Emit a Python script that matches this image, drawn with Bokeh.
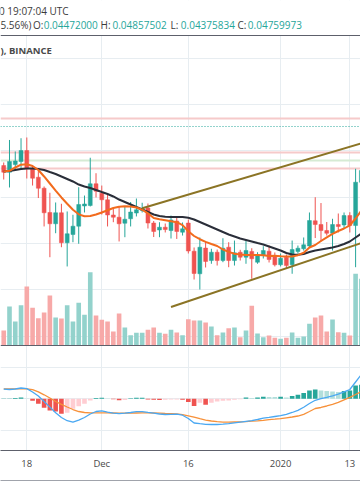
import numpy as np
import pandas as pd
from bokeh.plotting import figure
from bokeh.models import ColumnDataSource, Range1d, LinearAxis, FixedTicker, Grid, Span, BoxAnnotation
from bokeh.core.properties import value
from bokeh.embed import file_html
from bokeh.resources import INLINE

# ---------------- data ----------------
dates = pd.date_range("2019-11-14", "2020-01-15", freq="D")

opens = [0.04842, 0.04770, 0.04853, 0.04886, 0.05004, 0.04807, 0.04716, 0.04597, 0.04335, 0.04213,
         0.04332, 0.04008, 0.04097, 0.04187, 0.04405, 0.04410, 0.04645, 0.04543, 0.04472, 0.04308,
         0.04284, 0.04219, 0.04267, 0.04329, 0.04356, 0.04383, 0.04221, 0.04146, 0.04176, 0.04140,
         0.04243, 0.04122, 0.04221, 0.03917, 0.03673, 0.03951, 0.03816, 0.03906, 0.03816, 0.03960,
         0.03816, 0.03906, 0.03852, 0.03914, 0.03798, 0.03870, 0.03917, 0.03863, 0.03770, 0.03852,
         0.03770, 0.03914, 0.03943, 0.03973, 0.04245, 0.04205, 0.04140, 0.04111, 0.04205, 0.04200,
         0.04302, 0.04194, 0.04662]
highs = [0.04875, 0.05118, 0.04994, 0.05137, 0.05145, 0.04832, 0.04788, 0.04616, 0.04548, 0.04443,
         0.04429, 0.04346, 0.04310, 0.04608, 0.04518, 0.04926, 0.04759, 0.04626, 0.04529, 0.04375,
         0.04400, 0.04405, 0.04448, 0.04486, 0.04440, 0.04432, 0.04243, 0.04230, 0.04216, 0.04302,
         0.04281, 0.04227, 0.04259, 0.03957, 0.04065, 0.04027, 0.03943, 0.03935, 0.04057, 0.04014,
         0.04032, 0.03932, 0.04032, 0.03949, 0.03906, 0.03971, 0.03978, 0.03903, 0.03892, 0.03881,
         0.04032, 0.03978, 0.04065, 0.04335, 0.04500, 0.04437, 0.04232, 0.04267, 0.04324, 0.04335,
         0.04338, 0.04807, 0.04864]
lows = [0.04691, 0.04605, 0.04788, 0.04810, 0.04702, 0.04626, 0.04491, 0.04184, 0.03852, 0.04111,
        0.03960, 0.03752, 0.04014, 0.03997, 0.04335, 0.04400, 0.04497, 0.04313, 0.04184, 0.04230,
        0.04022, 0.04068, 0.04184, 0.04292, 0.04335, 0.04162, 0.04070, 0.04068, 0.04119, 0.04054,
        0.04049, 0.04086, 0.03892, 0.03611, 0.03503, 0.03741, 0.03781, 0.03762, 0.03798, 0.03744,
        0.03762, 0.03816, 0.03781, 0.03619, 0.03781, 0.03838, 0.03795, 0.03752, 0.03752, 0.03727,
        0.03673, 0.03892, 0.03924, 0.03957, 0.04059, 0.04022, 0.04086, 0.03924, 0.04119, 0.04162,
        0.04119, 0.03744, 0.04378]
closes = [0.04770, 0.04886, 0.04891, 0.05004, 0.04813, 0.04705, 0.04597, 0.04332, 0.04213, 0.04332,
          0.04008, 0.04105, 0.04187, 0.04421, 0.04427, 0.04645, 0.04565, 0.04472, 0.04308, 0.04284,
          0.04213, 0.04262, 0.04340, 0.04364, 0.04381, 0.04221, 0.04130, 0.04176, 0.04151, 0.04254,
          0.04130, 0.04159, 0.03919, 0.03676, 0.03960, 0.03806, 0.03906, 0.03816, 0.03949, 0.03816,
          0.03900, 0.03852, 0.03924, 0.03835, 0.03870, 0.03924, 0.03827, 0.03770, 0.03841, 0.03762,
          0.03935, 0.03949, 0.03986, 0.04248, 0.04205, 0.04140, 0.04111, 0.04205, 0.04184, 0.04302,
          0.04194, 0.04662, 0.04788]
volumes = [60, 156, 96, 161, 236, 151, 109, 132, 200, 112, 108, 161, 96, 171, 123, 293, 120, 103, 96, 56,
           128, 72, 41, 51, 51, 63, 72, 51, 47, 63, 52, 41, 105, 100, 100, 92, 76, 41, 52, 69,
           72, 33, 60, 159, 48, 33, 40, 31, 27, 31, 52, 31, 36, 87, 112, 120, 56, 104, 53, 51,
           40, 287, 267]
ema_fast = [0.04778, 0.04785, 0.04821, 0.04851, 0.04856, 0.04837, 0.04794, 0.04724, 0.04648, 0.04572,
            0.04497, 0.04429, 0.04364, 0.04315, 0.04294, 0.04297, 0.04313, 0.04335, 0.04359, 0.04383,
            0.04397, 0.04402, 0.04400, 0.04389, 0.04365, 0.04326, 0.04275, 0.04262, 0.04252, 0.04241,
            0.04230, 0.04198, 0.04132, 0.04081, 0.04046, 0.04018, 0.03995, 0.03973, 0.03935, 0.03910,
            0.03890, 0.03881, 0.03876, 0.03876, 0.03876, 0.03873, 0.03865, 0.03868, 0.03863, 0.03860,
            0.03860, 0.03874, 0.03900, 0.03957, 0.03984, 0.04027, 0.04067, 0.04105, 0.04135, 0.04162,
            0.04197, 0.04270, 0.04356]
ema_slow = [0.04778, 0.04783, 0.04794, 0.04805, 0.04810, 0.04810, 0.04805, 0.04794, 0.04772, 0.04751,
            0.04724, 0.04697, 0.04670, 0.04637, 0.04616, 0.04599, 0.04578, 0.04556, 0.04535, 0.04508,
            0.04475, 0.04448, 0.04421, 0.04394, 0.04367, 0.04340, 0.04313, 0.04297, 0.04288, 0.04286,
            0.04286, 0.04286, 0.04278, 0.04259, 0.04232, 0.04205, 0.04178, 0.04151, 0.04124, 0.04097,
            0.04076, 0.04054, 0.04038, 0.04022, 0.04005, 0.03989, 0.03968, 0.03946, 0.03924, 0.03897,
            0.03881, 0.03878, 0.03887, 0.03908, 0.03924, 0.03935, 0.03946, 0.03957, 0.03973, 0.03995,
            0.04022, 0.04065, 0.04108]
macd_line = [0.000303, 0.000293, 0.000309, 0.000341, 0.000319, 0.000215, 0.000088, -0.000085, -0.000262, -0.000442,
             -0.000590, -0.000691, -0.000738, -0.000675, -0.000590, -0.000479, -0.000401, -0.000379, -0.000420, -0.000454,
             -0.000470, -0.000454, -0.000432, -0.000407, -0.000404, -0.000429, -0.000451, -0.000479, -0.000495, -0.000489,
             -0.000483, -0.000517, -0.000621, -0.000763, -0.000785, -0.000804, -0.000811, -0.000811, -0.000798, -0.000782,
             -0.000757, -0.000735, -0.000713, -0.000691, -0.000653, -0.000609, -0.000584, -0.000558, -0.000533, -0.000489,
             -0.000432, -0.000363, -0.000268, -0.000148, -0.000047, 0.000003, 0.000047, 0.000095, 0.000145, 0.000218,
             0.000293, 0.000530, 0.000767]
signal_line = [0.000315, 0.000315, 0.000315, 0.000315, 0.000315, 0.000287, 0.000218, 0.000126, 0.000025, -0.000085,
               -0.000174, -0.000259, -0.000338, -0.000401, -0.000432, -0.000442, -0.000445, -0.000445, -0.000445, -0.000448,
               -0.000451, -0.000451, -0.000451, -0.000448, -0.000445, -0.000445, -0.000448, -0.000454, -0.000464, -0.000470,
               -0.000476, -0.000502, -0.000536, -0.000580, -0.000628, -0.000672, -0.000700, -0.000722, -0.000735, -0.000735,
               -0.000732, -0.000729, -0.000719, -0.000707, -0.000694, -0.000678, -0.000656, -0.000644, -0.000628, -0.000599,
               -0.000574, -0.000543, -0.000489, -0.000401, -0.000306, -0.000274, -0.000227, -0.000174, -0.000114, -0.000032,
               0.000047, 0.000136, 0.000230]
macd_hist = [0.000006, 0.000009, 0.000028, 0.000041, 0.000009, -0.000063, -0.000158, -0.000284, -0.000369, -0.000401,
             -0.000473, -0.000442, -0.000315, -0.000233, -0.000158, -0.000054, 0.000025, 0.000032, 0.000009, -0.000016,
             -0.000047, -0.000038, 0.000016, 0.000032, 0.000032, -0.000025, -0.000032, -0.000041, -0.000032, -0.000025,
             -0.000019, -0.000032, -0.000104, -0.000230, -0.000126, -0.000189, -0.000126, -0.000085, -0.000063, -0.000054,
             -0.000032, -0.000013, 0.000041, 0.000022, 0.000041, 0.000063, 0.000060, 0.000054, 0.000063, 0.000041,
             0.000085, 0.000126, 0.000180, 0.000262, 0.000293, 0.000262, 0.000243, 0.000230, 0.000211, 0.000243,
             0.000262, 0.000420, 0.000442]

tick_dates = pd.to_datetime(["2019-11-18", "2019-12-01", "2019-12-16", "2020-01-01", "2020-01-13"])

level_pink = [0.05355, 0.04986, 0.04813]
level_green = [0.04893]
level_last = [0.05269]

upper_dates = pd.to_datetime(["2019-12-08", "2020-01-17"])
upper_prices = [0.04380, 0.05118]
lower_dates = pd.to_datetime(["2019-12-13", "2020-01-17"])
lower_prices = [0.03314, 0.04047]

header_time = "0 19:07:04 UTC"
change_text = "5.56%)"
ohlc_labels = ["O:", "H:", "L:", "C:"]
ohlc_values = ["0.04472000", "0.04857502", "0.04375834", "0.04759973"]
symbol_text = "), BINANCE"

# ---------------- derived ----------------
base = pd.Timestamp("2019-11-18")
x = np.array((dates - base).days, dtype=float)
tick_x = [int(v) for v in (tick_dates - base).days]

def tv_label(ts):
    if ts.month == 1 and ts.day == 1:
        return str(ts.year)
    if ts.day == 1:
        return ts.strftime("%b")
    return str(ts.day)

UP, DOWN = "#26a69a", "#ef5350"
o = np.array(opens); c = np.array(closes)
inc = c >= o
hist = np.array(macd_hist)
prev = np.concatenate([[0.0], hist[:-1]])
hcol = np.where(hist >= 0,
                np.where(hist >= prev, "#26a69a", "#b2dfdb"),
                np.where(hist < prev, "#ef5350", "#ffcdd2"))

src = ColumnDataSource(dict(
    x=x, h=highs, l=lows, top=np.maximum(o, c), bottom=np.minimum(o, c),
    color=list(np.where(inc, UP, DOWN)),
    vcolor=list(np.where(inc, "#93d2cc", "#f7a9a8")),
    vol=volumes, ema_f=ema_fast, ema_s=ema_slow,
    macd=macd_line, sig=signal_line, hist=macd_hist, hcolor=list(hcol)))

# ---------------- figure ----------------
p = figure(width=360, height=504, x_range=Range1d(-4.56, 57.85), y_range=Range1d(0.017644, 0.066244),
           output_backend="svg", toolbar_location=None, y_axis_location=None, x_axis_location="below",
           min_border_left=0, min_border_right=0, min_border_top=0, min_border_bottom=54,
           background_fill_color="white", border_fill_color="white", outline_line_color=None)
p.grid.visible = False
p.extra_y_ranges = {"vol": Range1d(-420, 1380), "macd": Range1d(-0.0016309, 0.0125647)}

GRID = "#e7edf1"
p.add_layout(Grid(dimension=1, ticker=FixedTicker(ticks=[0.030, 0.035, 0.040, 0.045, 0.050, 0.055, 0.060]),
                  grid_line_color=GRID))
p.add_layout(Grid(dimension=1, ticker=FixedTicker(ticks=[-0.001, 0.0, 0.001]), y_range_name="macd",
                  grid_line_color=GRID))
p.add_layout(Grid(dimension=0, ticker=FixedTicker(ticks=tick_x), grid_line_color=GRID))
p.add_layout(BoxAnnotation(bottom=0.062464, fill_color="white", fill_alpha=1.0, line_alpha=0, level="underlay"))

# horizontal levels
p.hspan(y=level_pink, line_color="#f6caca", line_width=2)
p.hspan(y=level_green, line_color="#d6ebd4", line_width=2)
p.hspan(y=level_last, line_color="#26a69a", line_width=1, line_dash="1 2")

# volume
p.vbar(x="x", width=0.8, top="vol", bottom=0, y_range_name="vol", fill_color="vcolor",
       line_color=None, source=src)

# candles
p.segment(x0="x", y0="h", x1="x", y1="l", line_color="color", line_width=1, source=src)
p.vbar(x="x", width=0.68, top="top", bottom="bottom", fill_color="color", line_color="color",
       line_width=0.5, source=src)

# moving averages
p.line("x", "ema_s", line_color="#2a2e39", line_width=2, source=src)
p.line("x", "ema_f", line_color="#f26b1d", line_width=2, source=src)

# trend lines
p.line(np.array((upper_dates - base).days, dtype=float), upper_prices, line_color="#8b7425", line_width=2)
p.line(np.array((lower_dates - base).days, dtype=float), lower_prices, line_color="#8b7425", line_width=2)

# MACD
p.vbar(x="x", width=0.8, top="hist", bottom=0, y_range_name="macd", fill_color="hcolor",
       line_color=None, source=src)
p.line("x", "sig", y_range_name="macd", line_color="#f7913a", line_width=1.3, source=src)
p.line("x", "macd", y_range_name="macd", line_color="#4aa8f2", line_width=1.3, source=src)

# pane separators
p.add_layout(Span(location=0.062464, dimension="width", line_color="#5d606b", line_width=1.2))
p.add_layout(Span(location=0, dimension="width", y_range_name="vol", line_color="#5d606b", line_width=1.2))

# header texts
FONT = value("Open Sans")
p.text(x=[-4.82], y=[0.06511], text=[header_time], text_color="#3b3b3b", text_font=FONT,
       text_font_size="10px", text_baseline="middle", text_align="left")
run_text = [change_text, ohlc_labels[0], ohlc_values[0], ohlc_labels[1], ohlc_values[1],
            ohlc_labels[2], ohlc_values[2], ohlc_labels[3], ohlc_values[3]]
run_x = [-4.56, 1.08, 2.93, 12.78, 14.86, 24.92, 26.70, 36.53, 38.32]
run_col = ["#3b3b3b", "#3b3b3b", UP, "#3b3b3b", UP, "#3b3b3b", UP, "#3b3b3b", UP]
p.text(x=run_x, y=[0.06365] * len(run_text), text=run_text, text_color=run_col, text_font=FONT,
       text_font_size="10px", text_baseline="middle", text_align="left")
p.text(x=[-4.56], y=[0.06084], text=[symbol_text], text_color="#4a4a4a", text_font=FONT,
       text_font_size="9.5px", text_font_style="bold", text_baseline="middle", text_align="left")

# time axis
xa = p.xaxis[0]
xa.ticker = FixedTicker(ticks=tick_x)
xa.major_label_overrides = {t: tv_label(d) for t, d in zip(tick_x, tick_dates)}
xa.axis_line_color = "#5d606b"
xa.axis_line_width = 1.2
xa.major_tick_line_color = None
xa.minor_tick_line_color = None
xa.major_tick_out = 0
xa.major_tick_in = 0
xa.major_label_standoff = 6
xa.major_label_text_font = "Open Sans"
xa.major_label_text_font_size = "9.5px"
xa.major_label_text_color = "#4a4a4a"
xa.axis_label = " "
xa.axis_label_text_font_size = "2px"
xa.axis_label_standoff = 3

xb = LinearAxis(ticker=FixedTicker(ticks=[]), axis_line_color="#a0a3ab", axis_line_width=1,
                major_tick_line_color=None, minor_tick_line_color=None, major_label_text_font_size="0px")
p.add_layout(xb, "below")

open("out.html", "w").write(file_html(p, INLINE))
